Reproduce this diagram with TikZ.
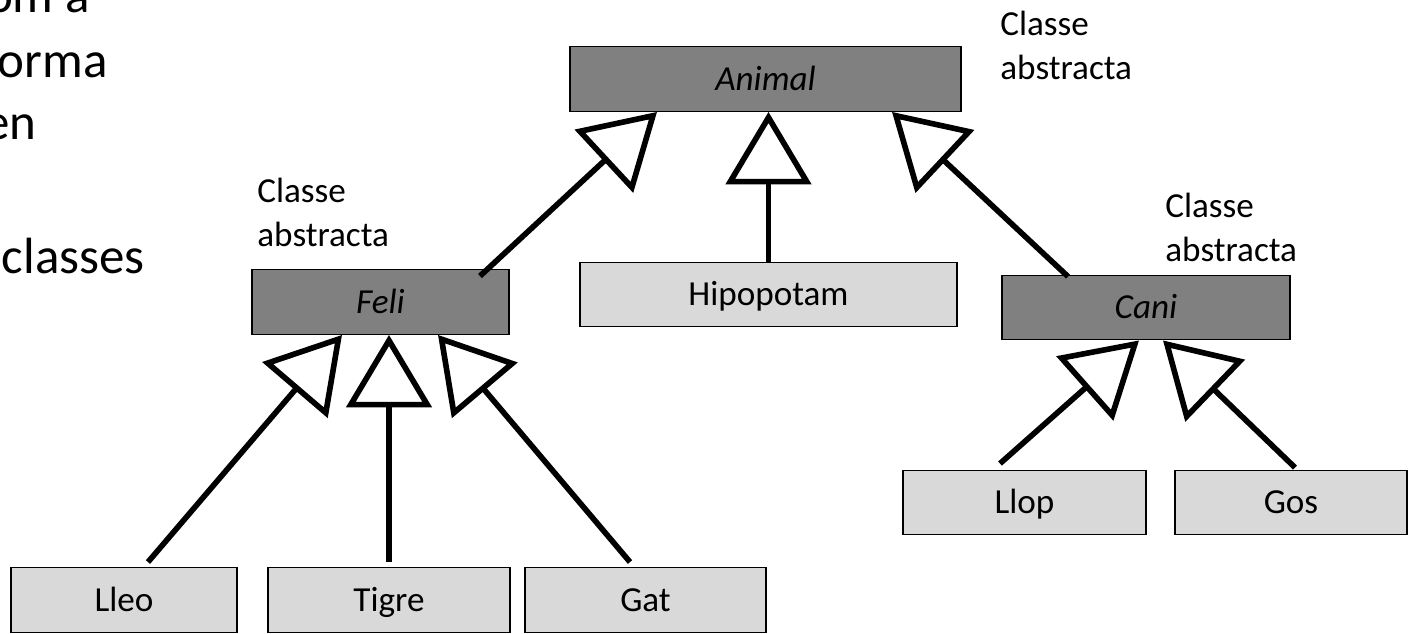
\documentclass[tikz,border=0pt]{standalone}
\usepackage{fontspec}
\setmainfont{Carlito}
\usetikzlibrary{arrows.meta}

\definecolor{classgray}{HTML}{D9D9D9}
\definecolor{abstractgray}{HTML}{808080}

\begin{document}
\begin{tikzpicture}[
    cls/.style={draw, line width=0.8pt, fill=classgray, minimum height=1.29cm,
                text height=12.9pt, text depth=0pt,
                font=\fontsize{20}{24}\selectfont},
    abstract/.style={cls, fill=abstractgray, font=\fontsize{20}{24}\selectfont\itshape},
    inherit/.style={-{Triangle[open, length=1.45cm, width=1.7cm]}, line width=3.2pt},
    note/.style={font=\fontsize{20}{25}\selectfont, align=left, anchor=north west,
                 inner sep=0pt},
    side/.style={font=\fontsize{29}{35}\selectfont, anchor=base east, inner sep=0pt},
]
    \useasboundingbox (0,0) rectangle (28.2,12.66);

    % text running off the left edge
    \node[side] (s1) at (1.80,12.40) {om a};
    \node[side] (s2) at (2.16,11.12) {orma};
    \node[side] (s3) at (0.74,9.86) {en};
    \node[side] (s4) at (2.90,7.20) {classes};

    % classes
    \node[abstract, minimum width=7.82cm] (animal) at (15.31,11.08) {Animal};
    \node[abstract, minimum width=5.14cm] (feli) at (7.61,6.62) {Feli};
    \node[cls, minimum width=7.54cm] (hipo) at (15.37,6.77) {Hipopotam};
    \node[abstract, minimum width=5.76cm] (cani) at (22.92,6.51) {Cani};
    \node[cls, minimum width=4.52cm] (lleo) at (2.48,0.66) {Lleo};
    \node[cls, minimum width=4.84cm] (tigre) at (7.78,0.66) {Tigre};
    \node[cls, minimum width=4.82cm] (gat) at (12.91,0.66) {Gat};
    \node[cls, minimum width=4.86cm] (llop) at (20.49,2.61) {Llop};
    \node[cls, minimum width=4.64cm] (gos) at (25.82,2.61) {Gos};

    \node[note] (n1) at (20.00,12.44) {Classe\\abstracta};
    \node[note] (n2) at (5.14,9.11) {Classe\\abstracta};
    \node[note] (n3) at (23.30,8.81) {Classe\\abstracta};

    % inheritance
    \draw[inherit] ([xshift=1.99cm, yshift=-0.14cm]feli.north) -- ([xshift=-2.17cm]animal.south);
    \draw[inherit] (hipo.north) -- (hipo.north |- animal.south);
    \draw[inherit] ([xshift=-1.56cm, yshift=-0.04cm]cani.north) -- ([xshift=2.53cm]animal.south);

    \draw[inherit] ([xshift=0.48cm, yshift=0.1cm]lleo.north) -- ([xshift=-0.77cm]feli.south);
    \draw[inherit] ([yshift=0.1cm]tigre.north) -- (tigre.north |- feli.south);
    \draw[inherit] ([xshift=-0.31cm, yshift=0.1cm]gat.north) -- ([xshift=1.15cm]feli.south);

    \draw[inherit] ([xshift=-0.49cm, yshift=0.12cm]llop.north) -- ([xshift=-0.14cm]cani.south);
    \draw[inherit] ([xshift=0.08cm, yshift=0.04cm]gos.north) -- ([xshift=0.34cm]cani.south);

\end{tikzpicture}
\end{document}
